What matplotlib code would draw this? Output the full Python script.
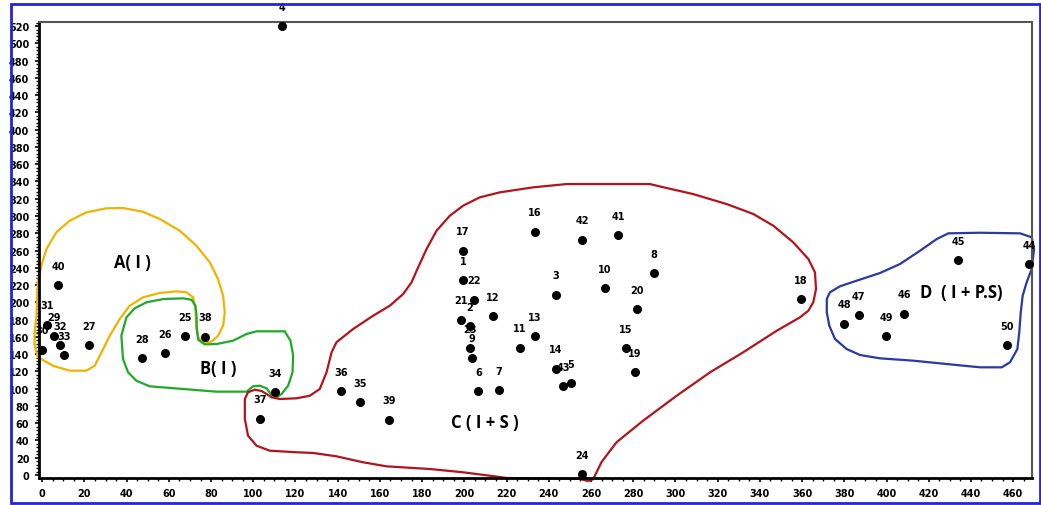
import matplotlib
matplotlib.use("Agg")
import matplotlib.pyplot as plt
from matplotlib.patches import Polygon, Rectangle
from matplotlib.ticker import MultipleLocator

# sample points: id, x, y
ids = list(range(1, 51))
xs = [199.4, 202.5, 243.5, 113.5, 250.5, 206.7, 216.5, 289.7, 203.6, 266.6,
      226.4, 213.4, 233.4, 243.5, 276.4, 233.4, 199.4, 359.5, 280.8, 281.8,
      198.2, 204.4, 202.5, 255.9, 67.5, 58.2, 22.0, 47.5, 5.4, 0.1,
      2.2, 8.3, 10.3, 110.3, 150.5, 141.5, 103.2, 77.3, 164.2, 7.5,
      272.8, 255.7, 246.7, 467.7, 433.9, 408.4, 386.9, 380.0, 399.8, 457.0]
ys = [225.5, 172.5, 209.0, 520.0, 106.0, 97.0, 98.0, 234.0, 136.0, 216.6,
      147.5, 184.0, 160.6, 123.0, 146.7, 282.0, 260.0, 203.5, 119.0, 192.0,
      180.0, 203.0, 147.0, 1.0, 161.0, 141.0, 150.0, 135.5, 161.0, 145.0,
      174.0, 150.0, 139.0, 96.0, 84.0, 97.0, 65.0, 160.0, 64.0, 220.0,
      278.0, 272.5, 103.0, 244.0, 249.0, 187.0, 185.0, 175.0, 161.0, 150.0]

# hand drawn group outlines (data units)
group_a = [(-2.7, 184.5), (-3.6, 165.3), (-3.6, 149.8), (-2.0, 136.3), (5.1, 126.6),
           (13.0, 120.8), (20.9, 120.8), (24.9, 126.6), (28.1, 142.1), (32.0, 161.3),
           (36.7, 180.7), (41.5, 196.1), (47.8, 205.8), (55.7, 210.8), (63.6, 212.7),
           (68.3, 211.6), (71.5, 205.8), (72.6, 192.2), (73.1, 172.9), (73.8, 159.5),
           (76.2, 153.7), (80.2, 154.4), (83.3, 161.3), (85.7, 172.9), (86.5, 188.4),
           (85.7, 207.6), (83.3, 227.0), (79.4, 246.3), (73.1, 265.5), (65.2, 282.9),
           (55.7, 296.5), (47.8, 304.9), (38.3, 309.2), (30.4, 308.9), (20.9, 304.2),
           (13.0, 294.5), (6.7, 281.1), (2.0, 261.7), (-0.4, 242.4), (-2.0, 223.2),
           (-2.5, 203.8)]
group_b = [(37.5, 161.3), (39.9, 182.6), (43.8, 193.0), (49.4, 200.0), (57.3, 203.8),
           (66.7, 204.6), (70.7, 203.0), (72.6, 196.1), (73.1, 184.5), (73.2, 169.1),
           (74.0, 156.3), (77.0, 151.3), (82.6, 151.7), (90.4, 155.5), (96.8, 163.3),
           (101.5, 166.4), (114.9, 166.4), (117.6, 155.5), (118.9, 138.2), (118.6, 118.9),
           (116.5, 103.4), (113.4, 93.8), (111.0, 90.0), (108.6, 92.6), (106.3, 100.4),
           (103.1, 103.4), (99.9, 102.7), (96.8, 96.5), (82.6, 96.5), (66.7, 99.6),
           (50.9, 102.7), (44.6, 109.2), (40.7, 118.9), (38.3, 134.3)]
group_c = [(97.5, 95.8), (100.7, 98.8), (103.9, 97.3), (106.3, 93.8), (108.6, 90.0),
           (112.6, 88.0), (120.5, 88.8), (126.8, 91.8), (131.5, 99.6), (134.7, 118.9),
           (137.1, 142.1), (139.4, 153.7), (147.3, 169.1), (156.8, 184.5), (164.7, 196.1),
           (171.0, 209.6), (175.0, 223.2), (178.1, 240.5), (182.1, 261.7), (186.8, 282.9),
           (193.1, 300.3), (199.4, 311.9), (207.3, 321.6), (216.8, 327.4), (232.6, 333.2),
           (248.4, 337.0), (287.9, 337.0), (292.5, 334.3), (308.4, 325.4), (324.3, 313.8),
           (336.9, 302.3), (346.4, 288.7), (355.8, 269.5), (363.0, 250.1), (366.1, 234.7),
           (366.6, 215.4), (365.3, 200.0), (363.0, 190.3), (359.0, 182.6), (348.0, 167.1),
           (332.1, 142.1), (316.4, 118.9), (300.6, 91.8), (284.7, 62.9), (272.1, 37.9),
           (265.0, 15.0), (261.0, -5.0), (258.5, -7.0), (254.7, -4.6), (220.0, -3.5),
           (215.3, -1.9), (199.4, 3.1), (183.6, 6.9), (163.1, 10.0), (152.0, 14.7),
           (139.4, 21.6), (128.3, 25.5), (120.5, 26.3), (107.8, 28.1), (101.5, 34.0),
           (97.5, 45.5), (96.0, 64.9), (96.0, 88.0)]
group_d = [(371.7, 203.8), (373.2, 211.6), (377.9, 218.5), (385.8, 225.0), (396.9, 233.9),
           (406.4, 244.4), (415.9, 259.8), (423.8, 273.3), (429.3, 279.9), (444.3, 280.6),
           (463.3, 279.9), (468.8, 275.3), (469.9, 261.7), (468.8, 238.6), (466.4, 223.2),
           (464.5, 207.6), (463.6, 188.4), (462.9, 165.3), (462.0, 145.9), (458.5, 130.5),
           (454.6, 124.7), (444.3, 124.7), (428.5, 128.5), (412.7, 132.4), (396.9, 135.1),
           (387.4, 139.0), (381.1, 145.9), (375.6, 157.5), (372.9, 172.9), (371.7, 188.4)]

group_names = ["A( I )", "B( I )", "C ( I + S )", "D  ( I + P.S)"]
group_pos = [(42.7, 247), (83.4, 124), (209.7, 61), (435.6, 212)]
group_colors = ["#f2b200", "#1faa2a", "#b3141c", "#2a3a9e"]

narrow = ["Liberation Sans Narrow", "DejaVu Sans"]

fig = plt.figure(figsize=(10.41, 5.06), dpi=100)
ax = fig.add_axes([0.0375, 0.0534, 0.954, 0.9016])

for pts, col in zip([group_a, group_b, group_c, group_d], group_colors):
    ax.add_patch(Polygon(pts, closed=True, fill=False, edgecolor=col, lw=1.6,
                         clip_on=False, zorder=2))

ax.scatter(xs, ys, s=30, color="black", zorder=3, clip_on=False)
for i, x, y in zip(ids, xs, ys):
    ax.annotate(str(i), (x, y), xytext=(0, 14), textcoords="offset points",
                ha="center", va="center", fontsize=7, fontweight="bold",
                family=narrow, annotation_clip=False, zorder=4)

for name, (gx, gy) in zip(group_names, group_pos):
    ax.text(gx, gy, name, ha="center", va="center", fontsize=12,
            fontweight="bold", family=["Open Sans", "DejaVu Sans"])

ax.set_xlim(-1.5, 469)
ax.set_ylim(-3.5, 525)
ax.xaxis.set_major_locator(MultipleLocator(20))
ax.xaxis.set_minor_locator(MultipleLocator(5))
ax.yaxis.set_major_locator(MultipleLocator(20))
ax.yaxis.set_minor_locator(MultipleLocator(4))
ax.tick_params(which="major", length=3, width=1.2, labelsize=7, pad=4)
ax.tick_params(which="minor", length=2, width=1)
for lab in ax.get_xticklabels() + ax.get_yticklabels():
    lab.set_fontweight("bold")
    lab.set_family(narrow)

ax.spines["left"].set_linewidth(2)
ax.spines["bottom"].set_linewidth(2)
for s in ["top", "right"]:
    ax.spines[s].set_linewidth(1.5)
    ax.spines[s].set_color("#555555")

fig.patches.append(Rectangle((11 / 1041, 2 / 506), 1029 / 1041, 499 / 506,
                             transform=fig.transFigure, fill=False,
                             edgecolor="#2424d8", lw=2))

fig.savefig("out.png", dpi=100)
